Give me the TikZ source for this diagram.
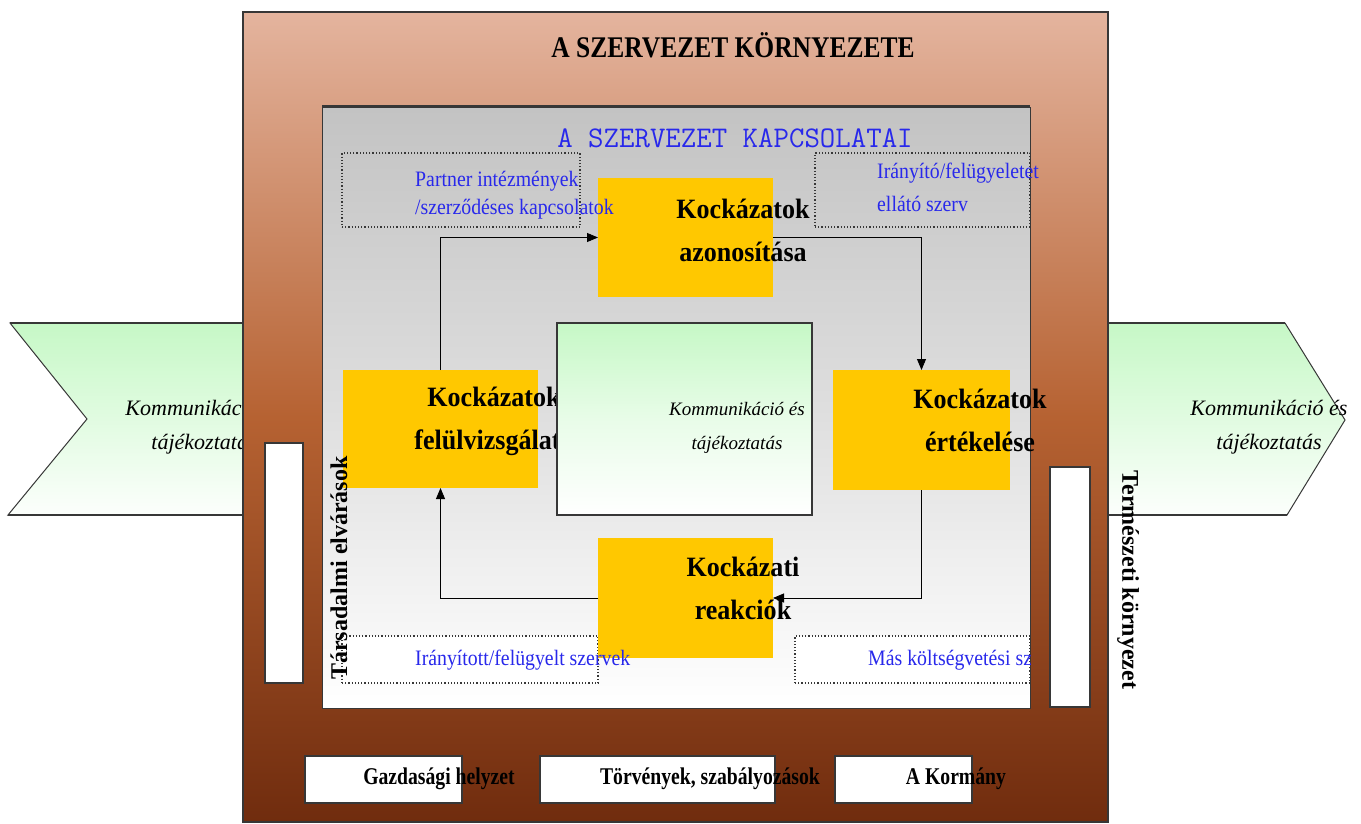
\documentclass[tikz,border=0pt]{standalone}
\usepackage{fontspec}
\setmainfont{Liberation Serif}
\newfontfamily\titlefont[FakeStretch=0.85]{Liberation Serif}
\newfontfamily\yfont[FakeStretch=0.93]{Liberation Serif}
\newfontfamily\bfont[FakeStretch=0.82]{Liberation Serif}
\newfontfamily\bluefont[FakeStretch=0.9]{Liberation Serif}
\usetikzlibrary{arrows.meta}
\definecolor{peach}{RGB}{228,180,158}
\definecolor{brownmid}{RGB}{182,98,50}
\definecolor{browndark}{RGB}{112,44,14}
\definecolor{ygold}{RGB}{255,200,0}
\definecolor{lgreen}{RGB}{198,248,198}
\definecolor{kblue}{RGB}{40,40,235}
\definecolor{edge}{RGB}{55,55,55}
\definecolor{gtop}{RGB}{195,195,195}
\definecolor{gmid}{RGB}{222,222,222}
\begin{document}
\begin{tikzpicture}[x=1pt,y=-1pt,
  box/.style={inner sep=0pt, outer sep=0pt},
  yel/.style={box, fill=ygold},
  ytxt/.style={font=\yfont\bfseries\fontsize{28}{43}\selectfont, align=center, inner sep=0pt},
  dotbox/.style={box, draw=edge, dotted, line width=1.2pt},
  bluetxt/.style={text=kblue, font=\bluefont\fontsize{22}{28}\selectfont, align=left, inner sep=0pt},
  whitebox/.style={box, fill=white, draw=edge, line width=1.2pt},
  btxt/.style={font=\bfont\bfseries\fontsize{24}{28}\selectfont, inner sep=0pt},
  vtxt/.style={font=\bfseries\fontsize{24}{28}\selectfont, inner sep=0pt},
  conn/.style={line width=0.9pt, -{Triangle[length=11pt,width=9pt]}},
  ital/.style={font=\itshape\fontsize{#1}{34}\selectfont, align=center, inner sep=0pt}
]
\useasboundingbox (0,0) rectangle (1361,824);
\fill[white] (0,0) rectangle (1361,824);

% chevrons
\path[draw=edge, line width=1pt, top color=lgreen, bottom color=white!95!lgreen]
  (10,323) -- (260,323) -- (260,515) -- (8,515) -- (87,419) -- cycle;
\draw[edge, line width=2.5pt] (10,323) -- (260,323) (8,515) -- (260,515);
\node[ital=22] (lcom) at (204,427) {Kommunikáció és\\tájékoztatás};
\path[draw=edge, line width=1pt, top color=lgreen, bottom color=white!95!lgreen]
  (1100,323) -- (1285,323) -- (1345,420) -- (1287,515) -- (1100,515) -- cycle;
\draw[edge, line width=2.5pt] (1100,323) -- (1285,323) (1100,515) -- (1287,515);
\node[ital=22] (rcom) at (1269,427) {Kommunikáció és\\tájékoztatás};

% environment box
\node[box, draw=edge, line width=1.5pt, minimum width=865pt, minimum height=810pt,
  top color=peach, bottom color=browndark, middle color=brownmid] (env) at (675.5,417) {};
\node[font=\titlefont\bfseries\fontsize{30}{34}\selectfont, inner sep=0pt] (title) at (733,45) {A SZERVEZET KÖRNYEZETE};

% tall white boxes
\node[whitebox, minimum width=38pt, minimum height=240pt] (lw) at (284,563) {};
\node[whitebox, minimum width=40pt, minimum height=240pt] (rw) at (1070,587) {};

% relations box
\node[box, draw=edge, line width=0.8pt, minimum width=708pt, minimum height=601pt,
  top color=gtop, bottom color=white, middle color=gmid] (rel) at (676,407.5) {};
\draw[edge, line width=3pt] (rel.north west) -- (rel.north east);
\node[text=kblue, font=\ttfamily\fontsize{30}{34}\selectfont, inner sep=0pt] (reltitle) at (735,138) {A SZERVEZET KAPCSOLATAI};

% dotted boxes
\node[dotbox, minimum width=238pt, minimum height=74pt] (partner) at (461,190) {};
\node[dotbox, minimum width=215pt, minimum height=74pt] (iranyito) at (922.5,190) {};
\node[dotbox, fill=white, minimum width=256pt, minimum height=47pt] (iranyitott) at (470,659.5) {};
\node[dotbox, fill=white, minimum width=235pt, minimum height=47pt] (mas) at (912.5,659.5) {};

% yellow boxes
\node[yel, minimum width=175pt, minimum height=119pt] (T) at (685.5,237.5) {};
\node[yel, minimum width=195pt, minimum height=118pt] (L) at (440.5,429) {};
\node[yel, minimum width=177pt, minimum height=120pt] (R) at (921.5,430) {};
\node[yel, minimum width=175pt, minimum height=120pt] (B) at (685.5,598) {};

% cycle connectors
\draw[conn] (L.north) |- (T.west);
\draw[conn] (T.east) -| (R.north);
\draw[conn] (R.south) |- (B.east);
\draw[conn] (B.west) -| (L.south);

% yellow texts
\node[ytxt] (Tt) at (743,230) {Kockázatok\\azonosítása};
\node[ytxt] (Lt) at (494,421) {Kockázatok\\felülvizsgálata};
\node[ytxt] (Rt) at (980,420) {Kockázatok\\értékelése};
\node[ytxt] (Bt) at (743,588) {Kockázati\\reakciók};

% centre box
\node[box, draw=edge, line width=1.5pt, minimum width=255pt, minimum height=192pt,
  top color=lgreen, bottom color=white, middle color=white!60!lgreen] (C) at (684.5,419) {};
\node[ital=19] (Ct) at (737,428) {Kommunikáció és\\tájékoztatás};

% dotted box texts
\node[bluetxt, anchor=west] (partnert) at (415,195) {Partner intézmények\\/szerződéses kapcsolatok};
\node[bluetxt, anchor=west, font=\bluefont\fontsize{22}{33}\selectfont] (iranyitot) at (877,187) {Irányító/felügyeletet\\ellátó szerv};
\node[bluetxt, anchor=west] (iranyitottt) at (415,660) {Irányított/felügyelt szervek};
\begin{scope}
\clip (795,636) rectangle (1030,683);
\node[bluetxt, anchor=west] (mast) at (868,660) {Más költségvetési szerv};
\end{scope}

% vertical labels
\node[vtxt, rotate=90] (tars) at (339,568) {Társadalmi elvárások};
\node[vtxt, rotate=-90] (term) at (1128,580) {Természeti környezet};

% bottom boxes
\node[whitebox, minimum width=157pt, minimum height=47pt] (gazd) at (383.5,779.5) {};
\node[whitebox, minimum width=235pt, minimum height=47pt] (torv) at (657.5,779.5) {};
\node[whitebox, minimum width=137pt, minimum height=47pt] (korm) at (903.5,779.5) {};
\node[btxt] (gazdt) at (439,779) {Gazdasági helyzet};
\node[btxt] (torvt) at (710,779) {Törvények, szabályozások};
\node[btxt] (kormt) at (956,779) {A Kormány};
\end{tikzpicture}
\end{document}
